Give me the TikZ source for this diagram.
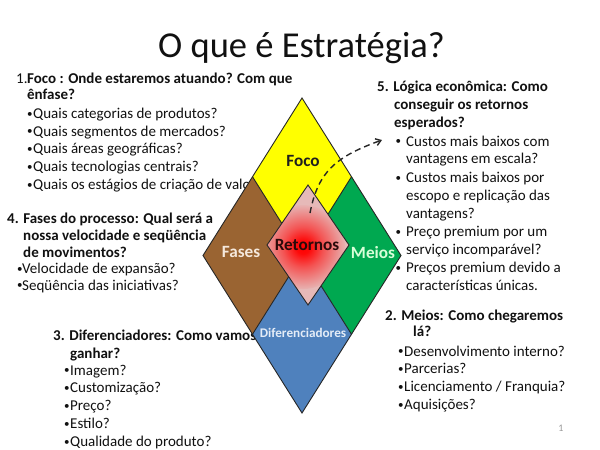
\documentclass[tikz,border=0pt]{standalone}
\usepackage{fontspec}
\setmainfont{Carlito}
\usetikzlibrary{arrows.meta}
\definecolor{foco}{HTML}{FFFF00}
\definecolor{fases}{HTML}{9A6432}
\definecolor{meios}{HTML}{00A850}
\definecolor{dif}{HTML}{4F81BD}
\definecolor{retpink}{HTML}{E6B9B8}
\definecolor{txt}{HTML}{111111}
\definecolor{fasestxt}{HTML}{F5E8DC}
\definecolor{meiostxt}{HTML}{D8FFD8}
\definecolor{diftxt}{HTML}{E4ECF7}
\definecolor{rettxt}{HTML}{2A0A0A}
\pgfdeclareradialshading{retshade}{\pgfpoint{0bp}{0bp}}{color(0bp)=(red); color(4bp)=(red!95!retpink); color(12bp)=(red!55!retpink); color(26bp)=(retpink); color(50bp)=(retpink)}
\newcommand{\bul}{{\fontsize{11}{11}\selectfont\raisebox{1.2pt}{•}}}
\begin{document}
\begin{tikzpicture}[x=1pt,y=-1pt,
  body/.style={font=\fontsize{15}{18}\selectfont, text=txt, inner sep=0pt, anchor=base west},
  bodyb/.style={font=\fontsize{15}{18}\selectfont\bfseries, text=txt, inner sep=0pt, anchor=base west},
  lab/.style={font=\fontsize{17.2}{20}\selectfont\bfseries, inner sep=0pt},
  labs/.style={font=\fontsize{13.2}{16}\selectfont\bfseries, inner sep=0pt},
  piece/.style={draw=black!85, line width=0.9pt, line join=miter}]
\useasboundingbox (0,0) rectangle (600,450);
\fill[white] (0,0) rectangle (600,450);

% title
\node[font=\fontsize{36.5}{40}\selectfont, text=txt, anchor=base, inner sep=0pt] (title) at (301.5,57) {O que é Estratégia?};

% block 1
\node[body] (b1h1) at (16,83) {\makebox[11pt][l]{1.}\textbf{Foco : Onde estaremos atuando? Com que}};
\node[bodyb] (b1h2) at (27,99.3) {ênfase?};
\node[body] (b1i1) at (27,118.3) {\makebox[6pt][l]{\bul}Quais categorias de produtos?};
\node[body] (b1i2) at (27,136.1) {\makebox[6pt][l]{\bul}Quais segmentos de mercados?};
\node[body] (b1i3) at (27,153.9) {\makebox[6pt][l]{\bul}Quais áreas geográficas?};
\node[body] (b1i4) at (27,171.7) {\makebox[6pt][l]{\bul}Quais tecnologias centrais?};
\node[body] (b1i5) at (27,189.5) {\makebox[6pt][l]{\bul}Quais os estágios de criação de valor?};

% block 4
\node[bodyb] (b4h1) at (7,223.3) {4. Fases do processo: Qual será a};
\node[bodyb] (b4h2) at (23,240) {nossa velocidade e seqüência};
\node[bodyb] (b4h3) at (23,257.3) {de movimentos?};
\node[body] (b4i1) at (17,273.3) {\makebox[5pt][l]{\bul}Velocidade de expansão?};
\node[body] (b4i2) at (17,290) {\makebox[5pt][l]{\bul}Seqüência das iniciativas?};

% block 3
\node[bodyb] (b3h1) at (53,340) {3. Diferenciadores: Como vamos};
\node[bodyb] (b3h2) at (70,358.3) {ganhar?};
\node[body] (b3i1) at (64,375) {\makebox[6pt][l]{\bul}Imagem?};
\node[body] (b3i2) at (64,392.8) {\makebox[6pt][l]{\bul}Customização?};
\node[body] (b3i3) at (64,410.6) {\makebox[6pt][l]{\bul}Preço?};
\node[body] (b3i4) at (64,428.4) {\makebox[6pt][l]{\bul}Estilo?};
\node[body] (b3i5) at (64,446.4) {\makebox[6pt][l]{\bul}Qualidade do produto?};

% block 2
\node[bodyb] (b2h1) at (385,320) {2. Meios: Como chegaremos};
\node[bodyb] (b2h2) at (413,336.7) {lá?};
\node[body] (b2i1) at (398,356) {\makebox[6pt][l]{\bul}Desenvolvimento interno?};
\node[body] (b2i2) at (398,373.8) {\makebox[6pt][l]{\bul}Parcerias?};
\node[body] (b2i3) at (398,391.6) {\makebox[6pt][l]{\bul}Licenciamento / Franquia?};
\node[body] (b2i4) at (398,409.4) {\makebox[6pt][l]{\bul}Aquisições?};

% block 5
\node[bodyb] (b5h1) at (377,91.7) {5. Lógica econômica: Como};
\node[bodyb] (b5h2) at (394,109.5) {conseguir os retornos};
\node[bodyb] (b5h3) at (394,127.3) {esperados?};
\node[body] (b5i1) at (395,146) {\makebox[11pt][l]{\hspace{0.5pt}\bul}Custos mais baixos com};
\node[body] (b5i1b) at (406,163.8) {vantagens em escala?};
\node[body] (b5i2) at (395,182.6) {\makebox[11pt][l]{\hspace{0.5pt}\bul}Custos mais baixos por};
\node[body] (b5i2b) at (406,200.4) {escopo e replicação das};
\node[body] (b5i2c) at (406,218.2) {vantagens?};
\node[body] (b5i3) at (395,236.9) {\makebox[11pt][l]{\hspace{0.5pt}\bul}Preço premium por um};
\node[body] (b5i3b) at (406,254.6) {serviço incomparável?};
\node[body] (b5i4) at (395,272.6) {\makebox[11pt][l]{\hspace{0.5pt}\bul}Preços premium devido a};
\node[body] (b5i4b) at (406,290.4) {características únicas.};

% page number
\node[font=\fontsize{10}{12}\selectfont, text=black!40, inner sep=0pt] (pg) at (561,428) {1};

% diamond pieces
\fill[foco] (302,98) -- (351.5,176.75) -- (302,255.5) -- (252.5,176.75) -- cycle;
\fill[fases] (252.5,176.75) -- (302,255.5) -- (252.5,334.25) -- (203,255.5) -- cycle;
\fill[meios] (351.5,176.75) -- (401,255.5) -- (351.5,334.25) -- (302,255.5) -- cycle;
\fill[dif] (302,255.5) -- (351.5,334.25) -- (302,413) -- (252.5,334.25) -- cycle;
\draw[piece] (302,98) -- (401,255.5) -- (302,413) -- (203,255.5) -- cycle;
\draw[piece] (252.5,176.75) -- (351.5,334.25);
\draw[piece] (351.5,176.75) -- (252.5,334.25);

% retornos
\begin{scope}
\clip (308,185) -- (349,245) -- (308,305) -- (267,245) -- cycle;
\fill[retpink] (267,185) rectangle (349,305);
\shade[shading=retshade] (303,247) circle (42);
\end{scope}
\draw[piece] (308,185) -- (349,245) -- (308,305) -- (267,245) -- cycle;

% labels
\node[lab, text=black!88] (focol) at (303,161) {Foco};
\node[lab, text=fasestxt] (fasesl) at (241,252) {Fases};
\node[lab, text=meiostxt] (meiosl) at (373,253) {Meios};
\node[lab, text=rettxt] (retl) at (307,245) {Retornos};
\node[labs, text=diftxt] (difl) at (303,333) {Diferenciadores};

% dashed arrow
\coordinate (as) at (310,213);
\coordinate (ae) at (382,140);
\draw[black!85, line width=1.4pt, dash pattern=on 6pt off 4pt, -{Straight Barb[length=5pt,width=7pt]}] (as) .. controls (318,172) and (335,157) .. (ae);
\end{tikzpicture}
\end{document}
